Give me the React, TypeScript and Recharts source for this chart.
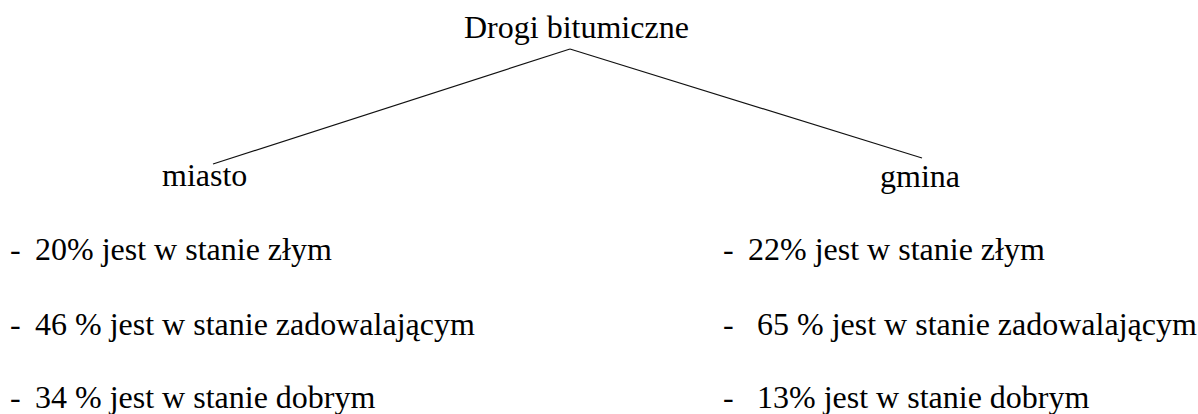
import React from "react";
import { ComposedChart, XAxis, YAxis, Line, Scatter } from "recharts";

// values
const title = "Drogi bitumiczne";
const categories = ["miasto", "gmina"];
const states = ["złym", "zadowalającym", "dobrym"];
const miastoValues = [20, 46, 34];
const gminaValues = [22, 65, 13];
// the scan writes "20%" but "46 %", so keep the gap per row
const miastoGaps = ["", " ", " "];
const gminaGaps = ["", " ", ""];

// layout of the diagram in page pixels
const W = 1198;
const H = 414;
const FONT = '"Liberation Serif", "Times New Roman", Times, serif';
const FONT_SIZE = 32;
const titlePos = { x: 464, y: 38 };
const apex = { x: 570, y: 49 };
const branchEnds = [
  { x: 213, y: 164 },
  { x: 922, y: 158 },
];
const categoryPos = [
  { x: 162, y: 186 },
  { x: 880, y: 187 },
];
const rowY = [260, 335, 408];
const dashX = [10, 723];
const textX = [
  [35, 35, 35],
  [748, 757, 757],
];

const columns = [
  { values: miastoValues, gaps: miastoGaps },
  { values: gminaValues, gaps: gminaGaps },
];

const labels: { x: number; y: number; text: string }[] = [
  { x: titlePos.x, y: titlePos.y, text: title },
];
categories.forEach((c, ci) => {
  labels.push({ x: categoryPos[ci].x, y: categoryPos[ci].y, text: c });
  columns[ci].values.forEach((v, ri) => {
    labels.push({ x: dashX[ci], y: rowY[ri], text: "-" });
    labels.push({
      x: textX[ci][ri],
      y: rowY[ri],
      text: `${v}${columns[ci].gaps[ri]}% jest w stanie ${states[ri]}`,
    });
  });
});

const branches = branchEnds.map((end) => [apex, end]);

const TextShape = (props: any) => {
  const { cx, cy, payload } = props;
  return (
    <text
      x={cx}
      y={cy}
      fill="#000"
      textAnchor="start"
      style={{ fontFamily: FONT, fontSize: FONT_SIZE, whiteSpace: "pre" }}
    >
      {payload.text}
    </text>
  );
};

export default function App() {
  return (
    <div
      style={{
        position: "absolute",
        left: 0,
        top: 0,
        background: "#fff",
        fontFamily: FONT,
      }}
    >
      <ComposedChart
        width={W}
        height={H}
        margin={{ top: 0, right: 0, bottom: 0, left: 0 }}
      >
        <XAxis type="number" dataKey="x" domain={[0, W]} hide />
        <YAxis type="number" dataKey="y" domain={[0, H]} reversed hide />
        {branches.map((b, i) => (
          <Line
            key={`branch-${i}`}
            data={b}
            dataKey="y"
            type="linear"
            stroke="#111"
            strokeWidth={1.2}
            dot={false}
            activeDot={false}
            isAnimationActive={false}
          />
        ))}
        <Scatter
          data={labels}
          dataKey="y"
          shape={<TextShape />}
          isAnimationActive={false}
        />
      </ComposedChart>
    </div>
  );
}
